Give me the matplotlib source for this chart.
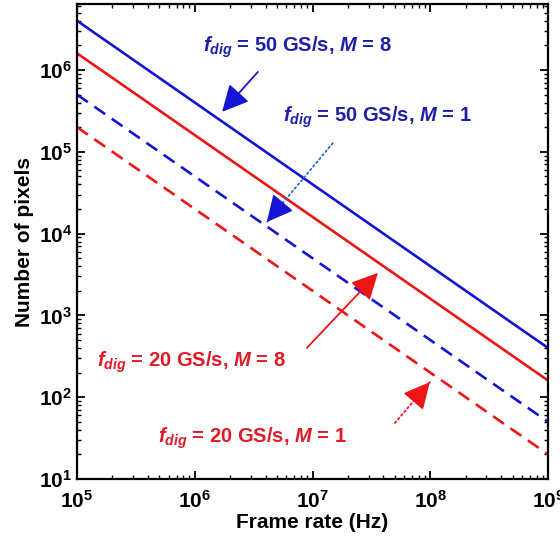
import math
import matplotlib
matplotlib.use("Agg")
import matplotlib.pyplot as plt
from matplotlib.ticker import FuncFormatter, LogLocator, NullFormatter

plt.rcParams['font.family'] = ['Liberation Sans', 'DejaVu Sans']
plt.rcParams['mathtext.fontset'] = 'custom'
plt.rcParams['mathtext.rm'] = 'Liberation Sans:bold'
plt.rcParams['mathtext.bf'] = 'Liberation Sans:bold'
plt.rcParams['mathtext.it'] = 'Liberation Sans:italic:bold'

# Data
frame_rate = [1e5, 1e6, 1e7, 1e8, 1e9]
pix_50_M8 = [4e6, 4e5, 4e4, 4e3, 4e2]
pix_20_M8 = [1.6e6, 1.6e5, 1.6e4, 1.6e3, 1.6e2]
pix_50_M1 = [5e5, 5e4, 5e3, 5e2, 50]
pix_20_M1 = [2e5, 2e4, 2e3, 2e2, 20]

blue = '#1414d2'
red = '#ee1515'
blue_txt = '#1e1eaa'
red_txt = '#e01a28'

fig = plt.figure(figsize=(5.6, 5.42), dpi=100)
ax = fig.add_axes([0.1375, 0.1162, 0.8411, 0.8764])

ax.loglog(frame_rate, pix_50_M8, color=blue, lw=1.9)
ax.loglog(frame_rate, pix_20_M8, color=red, lw=1.9)
ax.loglog(frame_rate, pix_50_M1, color=blue, lw=1.9, ls=(0, (5, 3)))
ax.loglog(frame_rate, pix_20_M1, color=red, lw=1.9, ls=(0, (5, 3)))

ax.set_xlim(1e5, 1e9)
ax.set_ylim(10, 6.4e6)

fmt = FuncFormatter(lambda v, p: r'$\mathbf{10^{%d}}$' % round(math.log10(v)))
ax.xaxis.set_major_locator(LogLocator(base=10, numticks=10))
ax.yaxis.set_major_locator(LogLocator(base=10, numticks=10))
ax.xaxis.set_major_formatter(fmt)
ax.yaxis.set_major_formatter(fmt)
ax.xaxis.set_minor_formatter(NullFormatter())
ax.yaxis.set_minor_formatter(NullFormatter())
ax.tick_params(which='both', direction='in', top=True, right=True, labelsize=15)
ax.tick_params(which='major', length=6, width=1.3)
ax.tick_params(which='minor', length=3, width=1)
ax.tick_params(axis='x', pad=8)
for s in ax.spines.values():
    s.set_linewidth(1.6)

ax.set_xlabel('Frame rate (Hz)', fontsize=15, fontweight='bold', labelpad=1)
ax.set_ylabel('Number of pixels', fontsize=15, fontweight='bold', labelpad=3)

tkw = dict(fontsize=14.5, fontweight='bold', va='center', ha='left', transform=ax.transAxes)
ax.text(0.267, 0.909, r'$\mathit{f}_{\mathit{dig}}$ = 50 GS/s, $\mathit{M}$ = 8', color=blue_txt, **tkw)
ax.text(0.437, 0.762, r'$\mathit{f}_{\mathit{dig}}$ = 50 GS/s, $\mathit{M}$ = 1', color=blue_txt, **tkw)
ax.text(0.042, 0.246, r'$\mathit{f}_{\mathit{dig}}$ = 20 GS/s, $\mathit{M}$ = 8', color=red_txt, **tkw)
ax.text(0.172, 0.086, r'$\mathit{f}_{\mathit{dig}}$ = 20 GS/s, $\mathit{M}$ = 1', color=red_txt, **tkw)

def arrow(tail, head, color, ls, shaft_color=None):
    hs = dict(arrowstyle='-|>,head_length=0.9,head_width=0.45', mutation_scale=18,
              color=color, lw=1.3, shrinkA=0, shrinkB=0)
    if ls == '-':
        ax.annotate('', xy=head, xycoords='axes fraction', xytext=tail,
                    textcoords='axes fraction', arrowprops=hs)
    else:
        ax.annotate('', xy=head, xycoords='axes fraction', xytext=tail,
                    textcoords='axes fraction',
                    arrowprops=dict(arrowstyle='-', color=shaft_color or color, lw=1.3,
                                    linestyle=ls, shrinkA=0, shrinkB=0))
        near = (head[0] - 0.12 * (head[0] - tail[0]), head[1] - 0.12 * (head[1] - tail[1]))
        ax.annotate('', xy=head, xycoords='axes fraction', xytext=near,
                    textcoords='axes fraction', arrowprops=hs)

arrow((0.384, 0.857), (0.308, 0.773), blue, '-')
arrow((0.543, 0.707), (0.403, 0.541), blue, ':', shaft_color='#2a6ad0')
arrow((0.488, 0.276), (0.639, 0.434), red, '-')
arrow((0.675, 0.118), (0.749, 0.204), red, ':')

fig.savefig('out.png', dpi=100)
